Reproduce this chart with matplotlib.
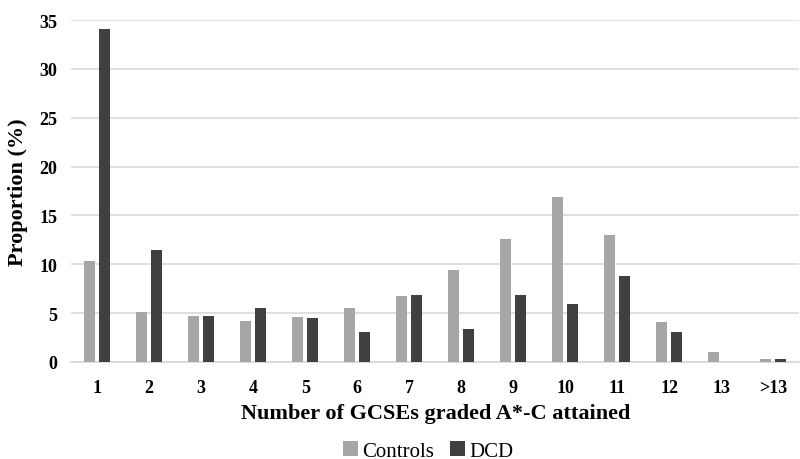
import matplotlib
matplotlib.use("Agg")
import matplotlib.pyplot as plt
import numpy as np

categories = ["1", "2", "3", "4", "5", "6", "7", "8", "9", "10", "11", "12", "13", ">13"]
controls = [10.3, 5.1, 4.75, 4.2, 4.65, 5.5, 6.8, 9.4, 12.6, 16.9, 13.0, 4.1, 1.0, 0.3]
dcd = [34.1, 11.5, 4.75, 5.5, 4.5, 3.1, 6.9, 3.4, 6.9, 5.9, 8.75, 3.1, 0.0, 0.35]

plt.rcParams['font.family'] = ['Liberation Serif', 'DejaVu Serif']

fig = plt.figure(figsize=(8, 4.6), dpi=100)
ax = fig.add_axes([0.089, 0.211, 0.91, 0.743])

x = np.arange(len(categories))
w = 0.22
off = 0.145
ax.bar(x - off, controls, w, color="#a6a6a6", label="Controls", zorder=3)
ax.bar(x + off, dcd, w, color="#404040", label="DCD", zorder=3)

ax.set_xlim(-0.5, len(categories) - 0.5)
ax.set_ylim(0, 35)
ax.set_yticks(range(0, 36, 5))
ax.yaxis.grid(True, color="#d9d9d9", linewidth=1.2, zorder=0)
ax.set_axisbelow(True)
for s in ["top", "right", "left"]:
    ax.spines[s].set_visible(False)
ax.spines["bottom"].set_color("#d9d9d9")
ax.spines["bottom"].set_linewidth(1.2)
ax.tick_params(axis="both", length=0, labelsize=13)
ax.tick_params(axis="x", pad=12)
ax.tick_params(axis="y", pad=10)
ax.set_xticks(x)
ax.set_xticklabels(categories, fontweight="bold")
for lab in ax.get_yticklabels():
    lab.set_fontweight("bold")

ax.set_ylabel("Proportion (%)", fontsize=16, fontweight="bold", labelpad=8)
ax.set_xlabel("Number of GCSEs graded A*-C attained", fontsize=16, fontweight="bold", labelpad=5)

fig.legend(loc="center", bbox_to_anchor=(0.535, 0.018), ncol=2, frameon=False,
           fontsize=15, handlelength=0.7, handleheight=0.7, handletextpad=0.2, columnspacing=0.8,
           borderpad=0, borderaxespad=0)

fig.savefig("out.png", dpi=100)
